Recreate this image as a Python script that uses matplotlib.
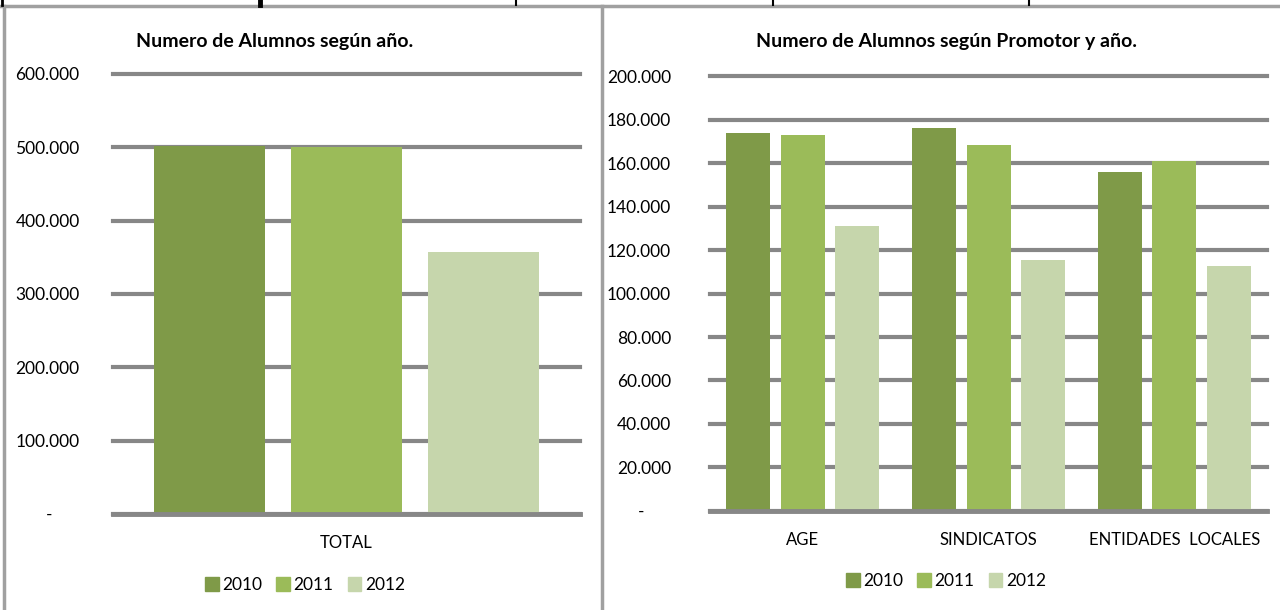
import matplotlib.pyplot as plt
from matplotlib.lines import Line2D
from matplotlib.patches import Patch
from matplotlib.ticker import FuncFormatter
import numpy as np

plt.rcParams['font.family'] = ['Lato', 'DejaVu Sans']

# data
years = ['2010', '2011', '2012']
colors = ['#7f9a48', '#9bbb59', '#c6d6ac']

total_cats = ['TOTAL']
total_vals = {'2010': [502000], '2011': [500500], '2012': [357000]}

prom_cats = ['AGE', 'SINDICATOS', 'ENTIDADES  LOCALES']
prom_vals = {
    '2010': [173600, 176100, 155800],
    '2011': [172900, 168200, 160700],
    '2012': [131000, 115400, 112600],
}

grid_c = '#878787'


def fmt(v, pos):
    if v == 0:
        return '-      '
    return f'{int(v):,}'.replace(',', '.')


def draw(ax, cats, vals, ymax, step):
    x = np.arange(len(cats))
    w = 0.237
    off = 0.293
    for i, y in enumerate(years):
        ax.bar(x + (i - 1) * off, vals[y], width=w, color=colors[i], zorder=3)
    ax.set_ylim(0, ymax)
    ax.set_yticks(np.arange(0, ymax + 1, step))
    ax.yaxis.set_major_formatter(FuncFormatter(fmt))
    ax.set_xlim(-0.5, len(cats) - 0.5)
    ax.set_xticks(x)
    ax.set_xticklabels(cats, fontsize=12)
    ax.grid(axis='y', color=grid_c, linewidth=3, zorder=1)
    for gl in ax.get_ygridlines():
        gl.set_clip_on(False)
    for s in ['top', 'right', 'left']:
        ax.spines[s].set_visible(False)
    ax.spines['bottom'].set_color(grid_c)
    ax.spines['bottom'].set_linewidth(3.5)
    ax.spines['bottom'].set_zorder(4)
    ax.tick_params(axis='y', length=0, labelsize=12.5, colors='black')
    ax.tick_params(axis='x', length=0, colors='black', pad=15)


fig = plt.figure(figsize=(12.8, 6.1), dpi=100)

ax1 = fig.add_axes([0.0883, 0.1574, 0.3648, 0.7213])
draw(ax1, total_cats, total_vals, 600000, 100000)
ax1.tick_params(axis='y', pad=24)

ax2 = fig.add_axes([0.5547, 0.1623, 0.4352, 0.7131])
draw(ax2, prom_cats, prom_vals, 200000, 20000)
ax2.tick_params(axis='y', pad=28)

fig.text(275 / 1280, 1 - 41 / 610, 'Numero de Alumnos según año.', ha='center', va='center',
         fontsize=14, fontweight='bold')
fig.text(946 / 1280, 1 - 41 / 610, 'Numero de Alumnos según Promotor y año.', ha='center', va='center',
         fontsize=14, fontweight='bold')

handles = [Patch(color=c, label=y) for c, y in zip(colors, years)]
for cx, cy in [(305, 585), (946, 581)]:
    fig.legend(handles=handles, loc='center', bbox_to_anchor=(cx / 1280, 1 - cy / 610), ncol=3,
               frameon=False, fontsize=12.5, handlelength=0.8, handleheight=0.8,
               handletextpad=0.2, columnspacing=0.8)

# panel frame lines
def fline(x0, y0, x1, y1, c, lw):
    fig.add_artist(Line2D([x0 / 1280, x1 / 1280], [1 - y0 / 610, 1 - y1 / 610], color=c, lw=lw))

fline(0, 6, 1280, 6, '#a0a0a0', 2.5)
fline(4, 6, 4, 610, '#a0a0a0', 2.5)
fline(602, 6, 602, 610, '#a0a0a0', 2.5)
for xx, lw in [(2, 2), (260, 3.5), (516, 1.5), (773, 1.5), (1029, 1.5)]:
    fline(xx, 0, xx, 5, 'black', lw)

fig.savefig('out.png', dpi=100)
